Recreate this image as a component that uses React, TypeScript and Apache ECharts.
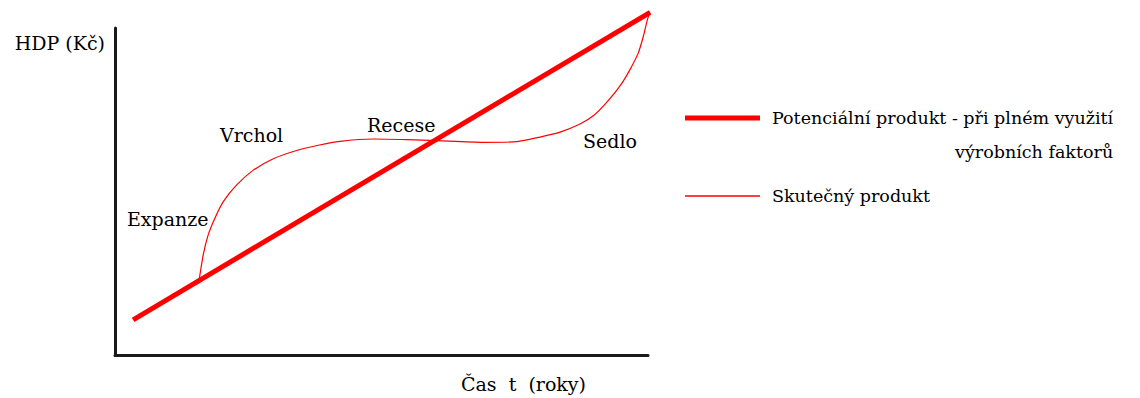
import React, { useEffect, useRef } from "react";
import * as echarts from "echarts";

const FONT = "DejaVu Serif";

const SERIES_POTENTIAL = "Potenciální produkt - při plném využití výrobních faktorů";
const SERIES_ACTUAL = "Skutečný produkt";

const Y_AXIS_NAME = "HDP (Kč)";
const X_AXIS_NAME = "Čas  t  (roky)";

// Potential product: straight trend line (time, GDP)
const potentialData: [number, number][] = [
  [3.4, 10.9],
  [100.4, 104.8],
];

// Actual product: business cycle curve (time, GDP)
const actualData: [number, number][] = [
  [15.76, 22.8],
  [16.57, 30.9],
  [17.5, 36.9],
  [18.76, 42.0],
  [20.32, 47.0],
  [22.83, 52.1],
  [25.95, 56.6],
  [29.7, 60.1],
  [34.09, 62.6],
  [38.14, 64.2],
  [42.21, 65.4],
  [48.41, 66.1],
  [54.78, 65.9],
  [60.41, 65.6],
  [69.04, 65.1],
  [75.42, 65.3],
  [79.74, 66.7],
  [83.49, 68.2],
  [87.24, 70.7],
  [89.74, 73.2],
  [92.25, 77.3],
  [94.75, 82.3],
  [96.62, 87.3],
  [98.18, 92.4],
  [99.12, 97.4],
  [99.87, 102.4],
  [100.38, 104.9],
];

const phaseLabels = ["Expanze", "Vrchol", "Recese", "Sedlo"];

export default function App() {
  const ref = useRef<HTMLDivElement>(null);

  useEffect(() => {
    if (!ref.current) return;
    const chart = echarts.init(ref.current, undefined, { renderer: "svg" });

    const FS = 19;
    const textBase = { fontFamily: FONT, fontSize: FS, color: "#000" };
    const legendText = { fontFamily: FONT, fontSize: 17.5, color: "#000" };
    const phasePos: [number, number][] = [
      [127, 219],
      [220, 135],
      [367, 125],
      [583, 141],
    ];

    chart.setOption({
      animation: false,
      backgroundColor: "#fff",
      grid: { left: 115, top: 28, width: 533, height: 331 },
      xAxis: {
        type: "value",
        min: 0,
        max: 100,
        name: X_AXIS_NAME,
        nameLocation: "middle",
        nameGap: 28,
        nameTextStyle: {
          ...textBase,
          verticalAlign: "middle",
          padding: [0, 0, 0, 284],
        },
        axisLine: { show: true, lineStyle: { color: "#1a1a1a", width: 3 } },
        axisTick: { show: false },
        axisLabel: { show: false },
        splitLine: { show: false },
      },
      yAxis: {
        type: "value",
        min: 0,
        max: 100,
        name: Y_AXIS_NAME,
        nameLocation: "end",
        nameGap: -15,
        nameTextStyle: {
          ...textBase,
          align: "right",
          verticalAlign: "middle",
          padding: [0, 10, 0, 0],
        },
        axisLine: { show: true, lineStyle: { color: "#1a1a1a", width: 3 } },
        axisTick: { show: false },
        axisLabel: { show: false },
        splitLine: { show: false },
      },
      legend: [
        {
          data: [SERIES_POTENTIAL],
          orient: "vertical",
          left: 685,
          top: 67,
          padding: 0,
          icon: "rect",
          itemWidth: 75,
          itemHeight: 5,
          selectedMode: false,
          formatter: () =>
            "{a|Potenciální produkt - při plném využití}\n{b|výrobních faktorů}",
          textStyle: {
            ...legendText,
            lineHeight: 34,
            padding: [34, 0, 0, 7],
            rich: {
              a: { ...legendText, lineHeight: 34 },
              b: { ...legendText, lineHeight: 34, align: "right" },
            },
          },
        },
        {
          data: [SERIES_ACTUAL],
          orient: "vertical",
          left: 685,
          top: 179,
          padding: 0,
          icon: "rect",
          itemWidth: 75,
          itemHeight: 1.3,
          selectedMode: false,
          textStyle: {
            ...legendText,
            lineHeight: 34,
            padding: [0, 0, 0, 7],
          },
        },
      ],
      graphic: phaseLabels.map((t, i) => ({
        type: "text",
        x: phasePos[i][0],
        y: phasePos[i][1],
        silent: true,
        style: {
          text: t,
          fill: "#000",
          fontFamily: FONT,
          fontSize: FS,
          align: "left",
          verticalAlign: "middle",
        },
      })),
      series: [
        {
          name: SERIES_POTENTIAL,
          type: "line",
          data: potentialData,
          symbol: "none",
          clip: false,
          lineStyle: { color: "#ff0000", width: 5 },
          itemStyle: { color: "#ff0000" },
          z: 3,
        },
        {
          name: SERIES_ACTUAL,
          type: "line",
          data: actualData,
          symbol: "none",
          smooth: 0.2,
          clip: false,
          lineStyle: { color: "#ff0000", width: 1.2 },
          itemStyle: { color: "#ff0000" },
          z: 2,
        },
      ],
    });

    return () => chart.dispose();
  }, []);

  return (
    <div
      ref={ref}
      style={{ position: "fixed", left: 0, top: 0, width: 1140, height: 398 }}
    />
  );
}
